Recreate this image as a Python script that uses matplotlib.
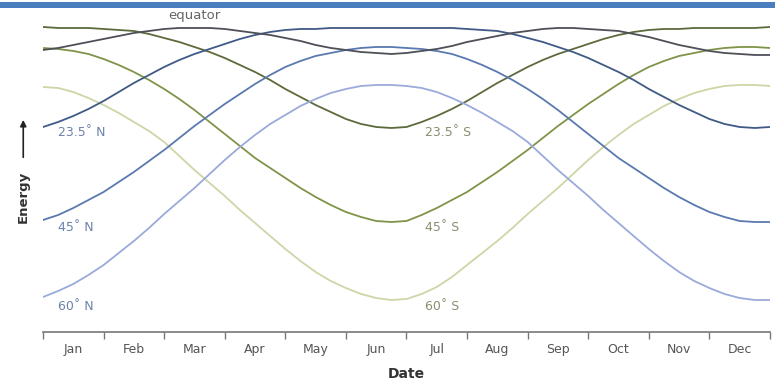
import matplotlib
matplotlib.use('Agg')
import matplotlib.pyplot as plt
import numpy as np
from matplotlib.patches import Rectangle, FancyArrowPatch

plt.rcParams['font.family'] = 'DejaVu Sans'

months = ['Jan', 'Feb', 'Mar', 'Apr', 'May', 'Jun',
          'Jul', 'Aug', 'Sep', 'Oct', 'Nov', 'Dec']

# sample dates, in months since 1 Jan (every quarter month)
dates = np.linspace(0, 12, 49)

# relative daily energy
equator = [282, 284, 287, 290, 293, 296, 299, 301, 303, 304,
           304, 304, 303, 301, 299, 297, 294, 291, 287, 284,
           282, 280, 279, 278, 279, 281, 283, 286, 290, 293,
           296, 299, 301, 303, 304, 304, 303, 302, 301, 298,
           295, 291, 287, 284, 281, 279, 278, 277, 277]
n23 = [205, 210, 216, 223, 231, 240, 249, 257, 265, 272,
       278, 283, 288, 293, 297, 300, 302, 303, 303, 304,
       304, 304, 304, 304, 304, 304, 304, 304, 303, 302,
       301, 298, 294, 290, 285, 280, 274, 267, 260, 252,
       243, 235, 227, 220, 213, 208, 205, 204, 205]
n45 = [112, 117, 124, 132, 140, 150, 160, 171, 182, 194,
       206, 217, 228, 238, 248, 257, 265, 271, 276, 279,
       282, 284, 285, 285, 284, 283, 281, 278, 273, 267,
       260, 252, 243, 233, 222, 210, 198, 186, 174, 164,
       154, 144, 135, 127, 120, 115, 111, 110, 110]
n60 = [35, 41, 48, 57, 67, 79, 91, 104, 118, 131,
       144, 158, 172, 185, 197, 208, 217, 226, 233, 239,
       243, 246, 247, 247, 246, 244, 240, 234, 227, 219,
       210, 201, 190, 176, 162, 149, 136, 122, 109, 96,
       83, 71, 60, 51, 44, 38, 34, 32, 32]
s23 = [305, 304, 304, 304, 303, 302, 301, 298, 294, 290,
       285, 280, 274, 267, 260, 252, 243, 235, 227, 220,
       213, 208, 205, 204, 205, 210, 216, 223, 231, 240,
       249, 257, 265, 272, 278, 283, 288, 293, 297, 300,
       302, 303, 303, 304, 304, 304, 304, 304, 305]
s45 = [284, 283, 281, 278, 273, 267, 260, 252, 243, 233,
       222, 210, 198, 186, 174, 164, 154, 144, 135, 127,
       120, 115, 111, 110, 111, 117, 124, 132, 140, 150,
       160, 171, 182, 194, 206, 217, 228, 238, 248, 257,
       265, 271, 276, 279, 282, 284, 285, 285, 284]
s60 = [245, 244, 240, 234, 227, 219, 210, 201, 190, 176,
       162, 149, 136, 122, 109, 96, 83, 71, 60, 51,
       44, 38, 34, 32, 33, 38, 45, 55, 67, 79,
       91, 104, 118, 131, 144, 158, 172, 185, 197, 208,
       217, 226, 233, 239, 243, 246, 247, 247, 246]

fig = plt.figure(figsize=(7.75, 3.84), dpi=100)
fig.patch.set_facecolor('white')
fig.patches.append(Rectangle((0, 0.979), 1, 0.017, transform=fig.transFigure,
                             facecolor='#4a7ebf', edgecolor='none'))

ax = fig.add_axes([0.0555, 0.1354, 0.938, 0.8386])

lw = 1.3
ax.plot(dates, s60, color='#cdd6a6', lw=lw)
ax.plot(dates, s45, color='#7f9448', lw=lw)
ax.plot(dates, s23, color='#5d6a3c', lw=lw)
ax.plot(dates, n60, color='#9aaada', lw=lw)
ax.plot(dates, n45, color='#5a79b0', lw=lw)
ax.plot(dates, n23, color='#3f5a86', lw=lw)
ax.plot(dates, equator, color='#4d5058', lw=lw)

ax.set_xlim(0, 12)
ax.set_ylim(0, 322)

for s in ['top', 'right', 'left']:
    ax.spines[s].set_visible(False)
ax.spines['bottom'].set_color('#777777')
ax.spines['bottom'].set_linewidth(1.2)

ax.set_yticks([])
ax.set_xticks(range(13))
ax.set_xticklabels([])
ax.set_xticks(np.arange(0.5, 12, 1), minor=True)
ax.set_xticklabels(months, minor=True)
ax.tick_params(axis='x', which='major', length=5, width=1, color='#777777',
               direction='out')
ax.tick_params(axis='x', which='minor', length=0, pad=8, labelsize=9,
               labelcolor='#555555')

ax.set_xlabel('Date', fontsize=10, fontweight='bold', color='#333333',
              labelpad=8)

# labels next to the curves
ncol = '#6d82a8'
scol = '#8b8d70'
ax.text(2.5, 316, 'equator', fontsize=9.5, color='#666666',
        ha='center', va='center')
ax.text(0.25, 199, '23.5˚ N', fontsize=9, color=ncol, va='center')
ax.text(0.25, 104, '45˚ N', fontsize=9, color=ncol, va='center')
ax.text(0.25, 26, '60˚ N', fontsize=9, color=ncol, va='center')
ax.text(6.3, 199, '23.5˚ S', fontsize=9, color=scol, va='center')
ax.text(6.3, 104, '45˚ S', fontsize=9, color=scol, va='center')
ax.text(6.3, 26, '60˚ S', fontsize=9, color=scol, va='center')

# y axis label with arrow
fig.text(0.030, 0.487, 'Energy', rotation=90, fontsize=9.5,
         fontweight='bold', color='#333333', ha='center', va='center')
fig.patches.append(FancyArrowPatch(
    (0.030, 0.583), (0.030, 0.695), transform=fig.transFigure,
    arrowstyle='-|>', mutation_scale=9, color='#222222', lw=1.2))

fig.savefig('out.png', dpi=100)
